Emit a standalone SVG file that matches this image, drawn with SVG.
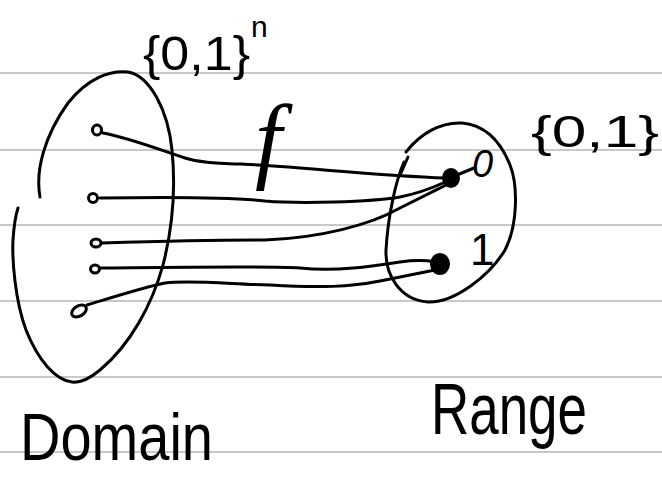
<svg xmlns="http://www.w3.org/2000/svg" width="662" height="477" viewBox="0 0 662 477">
<style>
.rule{stroke:#c8c8c8;stroke-width:2}
.ink{fill:none;stroke:#000;stroke-width:3;stroke-linecap:round;stroke-linejoin:round}
.blob{fill:#000;stroke:#000;stroke-width:2}
.t{font-family:"Liberation Sans","DejaVu Sans",sans-serif;fill:#000}
.f{font-family:"Liberation Serif","DejaVu Serif",serif;font-style:italic;fill:#000}
</style>
<rect width="662" height="477" fill="#fff"/>
<g id="ruling">
<line class="rule" x1="0" y1="73" x2="662" y2="73"/>
<line class="rule" x1="0" y1="150" x2="662" y2="150"/>
<line class="rule" x1="0" y1="225" x2="662" y2="225"/>
<line class="rule" x1="0" y1="301" x2="662" y2="301"/>
<line class="rule" x1="0" y1="377" x2="662" y2="377"/>
<line class="rule" x1="0" y1="452" x2="662" y2="452"/>
</g>
<g id="domain">
<path class="ink" d="M40,197 C35,170 45,135 68,103 C88,78 110,70 128,72 C150,76 168,110 172,150 C176,190 172,230 163,265 C152,305 130,345 100,370 C88,380 80,383 72,382 C55,380 38,360 26,330 C15,300 12,260 13,240 C14,225 16,214 18,208"/>
<text class="t" x="143" y="70" font-size="48" textLength="107" lengthAdjust="spacingAndGlyphs">{0,1}</text>
<text class="t" x="251" y="37" font-size="30">n</text>
<text class="t" x="20" y="460" font-size="66" textLength="193" lengthAdjust="spacingAndGlyphs">Domain</text>
</g>
<g id="domain-points">
<ellipse class="ink" cx="97" cy="130" rx="4.5" ry="5"/>
<ellipse class="ink" cx="93" cy="198" rx="4.5" ry="4.5"/>
<ellipse class="ink" cx="96" cy="243" rx="5" ry="4"/>
<ellipse class="ink" cx="95" cy="269" rx="4.5" ry="4"/>
<ellipse class="ink" cx="79" cy="311" rx="8" ry="5" transform="rotate(-30 79 311)"/>
</g>
<g id="range">
<path class="ink" d="M404,162 C396,180 388,215 386,250 C385,275 400,300 428,302 C455,303 490,275 505,250 C518,225 518,185 510,165 C500,140 485,125 462,123 C440,122 420,134 406,152"/>
<path class="ink" d="M408,157 L401,173"/>
<text class="t" x="531" y="147" font-size="45" textLength="128" lengthAdjust="spacingAndGlyphs">{0,1}</text>
<text class="t" x="431" y="434" font-size="72" textLength="156" lengthAdjust="spacingAndGlyphs">Range</text>
</g>
<g id="range-0">
<ellipse class="blob" cx="451" cy="178" rx="8" ry="9"/>
<path class="ink" d="M457,175 L474,168"/>
<text class="t" x="472" y="177" font-size="38" font-style="italic">0</text>
</g>
<g id="range-1">
<ellipse class="blob" cx="440" cy="264" rx="9" ry="10"/>
<text class="t" x="470" y="265" font-size="44">1</text>
</g>
<g id="connectors">
<path class="ink" d="M103,133 C130,138 160,150 185,158 C200,163 220,163 260,165 C330,170 390,176 445,178"/>
<path class="ink" d="M100,198 C160,197 230,197 265,201 C300,204 370,202 400,197 C420,193 432,188 443,183"/>
<path class="ink" d="M102,243 C170,241 230,240 265,240 C320,238 370,225 400,208 C420,198 432,192 446,185"/>
<path class="ink" d="M101,268 C200,267 270,266 300,268 C340,272 380,265 400,262 C415,260 425,260 435,262"/>
<path class="ink" d="M87,305 C120,295 145,287 165,283 C190,280 230,284 270,285 C320,288 350,287 380,281 C400,277 420,273 435,270"/>
<text class="f" x="255" y="171" font-size="96">f</text>
</g>
</svg>
